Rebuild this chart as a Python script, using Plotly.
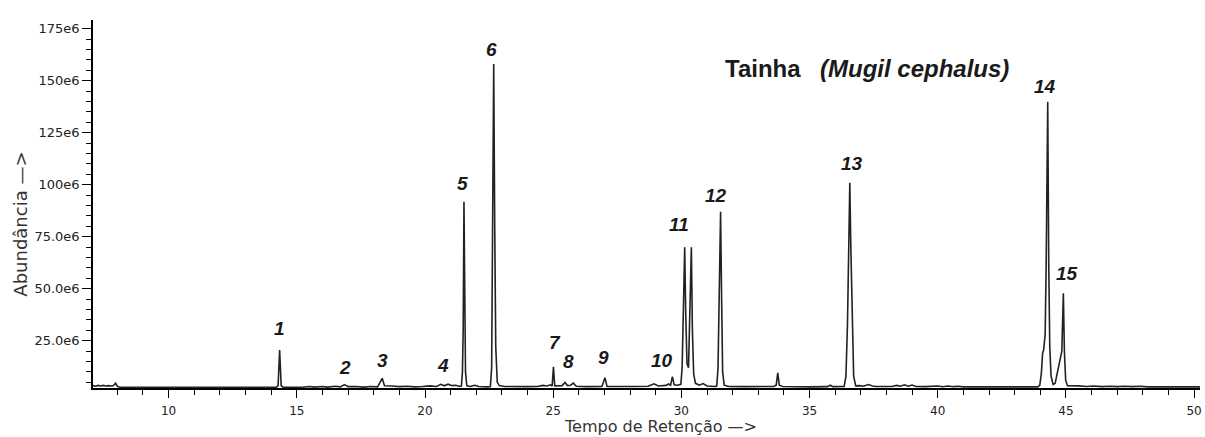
import numpy as np
import plotly.graph_objects as go

# Total ion chromatogram, retention time (min) vs abundance (x 1e6)
retention_time = [
    7.05, 7.15, 7.25, 7.35, 7.45, 7.55, 7.65, 7.75, 7.85, 7.93, 8.00, 8.10,
    14.20, 14.27, 14.33, 14.39, 14.46,
    15.2, 15.5, 15.7, 16.0, 16.2, 16.5, 16.7, 16.86, 17.0, 17.3, 17.6, 17.9,
    18.15, 18.33, 18.42, 18.7, 19.0, 19.3, 19.6, 19.9, 20.2, 20.45, 20.62,
    20.75, 20.9, 21.05, 21.2, 21.35,
    21.42, 21.46, 21.49, 21.52, 21.55, 21.58, 21.63, 21.75, 21.95, 22.1, 22.45,
    22.55, 22.60, 22.64, 22.68, 22.72, 22.76, 22.82, 22.9, 23.1, 23.5, 24.0,
    24.4, 24.6, 24.75, 24.9, 24.96, 25.01, 25.06, 25.2, 25.35, 25.46, 25.56,
    25.68, 25.79, 25.9, 26.3, 26.9, 27.02, 27.10, 27.6, 28.2, 28.7, 28.93,
    29.1, 29.4, 29.5, 29.58, 29.65, 29.72, 29.85, 29.98,
    30.03, 30.07, 30.13, 30.17, 30.22, 30.28, 30.33, 30.39, 30.43, 30.48,
    30.55, 30.7, 30.85, 31.0, 31.3,
    31.38, 31.43, 31.47, 31.53, 31.57, 31.61, 31.67, 31.85,
    32.5, 33.2, 33.6, 33.70, 33.76, 33.82, 33.95,
    35.0, 35.7, 35.81, 35.9,
    36.35, 36.42, 36.48, 36.53, 36.57, 36.61, 36.66, 36.72, 36.80,
    36.95, 37.1, 37.3, 37.45, 37.6, 38.2, 38.4, 38.55, 38.7, 38.85, 39.0,
    39.15, 39.5, 40.0, 40.2, 40.4, 40.6, 40.8, 41.0,
    43.9, 43.98,
    44.04, 44.09, 44.13, 44.19, 44.23, 44.29, 44.33, 44.37, 44.42, 44.50,
    44.58, 44.66, 44.72, 44.78, 44.84, 44.90, 44.94, 44.99, 45.06,
    45.5, 45.8, 46.1, 46.4, 46.7, 47.0, 47.3, 47.6, 47.9, 48.2, 50.23,
]
abundance_e6 = [
    3.4, 3.1, 3.5, 3.2, 3.5, 3.2, 3.4, 3.2, 3.5, 4.6, 3.0, 2.6,
    2.6, 3.4, 20.5, 3.4, 2.7,
    2.6, 3.0, 2.7, 3.0, 2.7, 3.1, 2.8, 3.9, 2.9, 3.0, 2.7, 3.0,
    2.8, 6.9, 3.3, 3.2, 2.9, 3.1, 2.8, 3.0, 3.3, 3.0, 4.0,
    3.3, 4.1, 3.4, 3.6, 3.0,
    3.2, 10.0, 30.0, 91.8, 30.0, 10.0, 3.4, 3.0, 3.6, 3.0, 2.8,
    3.0, 12.0, 80.0, 158.0, 80.0, 22.0, 5.0, 3.4, 3.0, 2.8, 2.9,
    3.0, 3.5, 3.2, 3.8, 3.2, 12.5, 3.3, 3.2, 3.4, 4.9, 3.4,
    3.6, 4.6, 3.1, 2.9, 3.0, 7.2, 3.0, 2.9, 3.0, 3.1, 4.3,
    3.2, 3.5, 4.2, 3.6, 7.7, 3.8, 3.6, 4.0,
    12.0, 38.0, 69.9, 38.0, 14.0, 12.0, 35.0, 69.9, 30.0, 9.0,
    4.5, 3.6, 4.4, 3.2, 3.0,
    3.2, 12.0, 45.0, 87.0, 45.0, 10.0, 3.6, 3.0,
    2.9, 2.9, 3.0, 3.6, 9.5, 3.6, 3.0,
    2.8, 2.9, 3.6, 2.9,
    3.0, 8.0, 33.0, 70.0, 101.0, 70.0, 33.0, 8.0, 3.3,
    3.4, 3.1, 3.9, 3.2, 3.0, 3.0, 3.5, 3.1, 3.8, 3.1, 3.7,
    3.0, 2.9, 3.2, 2.9, 3.2, 2.9, 3.1, 2.8,
    2.8, 3.5,
    9.0, 19.0, 20.5, 28.0, 62.0, 139.9, 62.0, 22.0, 8.0, 3.9,
    4.5, 9.0, 14.0, 16.5, 20.0, 47.8, 20.0, 6.0, 3.4,
    3.3, 3.0, 3.2, 2.9, 3.1, 2.9, 3.1, 2.9, 3.1, 2.8, 2.8,
]

# Peak numbering and where each number sits (retention time, abundance x 1e6)
peak_numbers = ["1", "2", "3", "4", "5", "6", "7", "8", "9", "10",
                "11", "12", "13", "14", "15"]
label_rt = [14.33, 16.86, 18.34, 20.72, 21.46, 22.61, 25.08, 25.58, 26.95,
            29.25, 29.91, 31.35, 36.64, 44.20, 45.06]
label_abundance_e6 = [31.1, 11.9, 15.7, 13.3, 100.8, 164.8, 23.9, 14.8, 16.7,
                      15.7, 81.1, 95.0, 110.4, 147.0, 57.5]

# Axis ticks
x_tick_values = [10, 15, 20, 25, 30, 35, 40, 45, 50]
y_tick_values_e6 = [25, 50, 75, 100, 125, 150, 175]
y_tick_text = ["25.0e6", "50.0e6", "75.0e6", "100e6", "125e6", "150e6", "175e6"]

x = np.array(retention_time)
y = np.array(abundance_e6) * 1e6

fig = go.Figure()
fig.add_trace(go.Scatter(
    x=x, y=y, mode="lines",
    line=dict(color="#222222", width=1.6),
    hoverinfo="skip", showlegend=False,
))

label_font = dict(family="Liberation Sans", size=19, color="#1a1a1a",
                  weight="bold", style="italic")
for num, rt, ab in zip(peak_numbers, label_rt, label_abundance_e6):
    fig.add_annotation(x=rt, y=ab * 1e6, xref="x", yref="y", text=num,
                       showarrow=False, xanchor="center", yanchor="middle",
                       font=label_font)

# Sample name
fig.add_annotation(x=0.569, y=0.868, xref="paper", yref="paper",
                   text="Tainha", showarrow=False,
                   xanchor="left", yanchor="middle",
                   font=dict(family="Liberation Sans", size=24, color="#1a1a1a",
                             weight="bold"))
fig.add_annotation(x=0.6546, y=0.868, xref="paper", yref="paper",
                   text="(Mugil cephalus)", showarrow=False,
                   xanchor="left", yanchor="middle",
                   font=dict(family="Liberation Sans", size=24, color="#1a1a1a",
                             weight="bold", style="italic"))

# Axis titles
fig.add_annotation(x=0.5126, y=-0.1055, xref="paper", yref="paper",
                   text="Tempo de Retenção —>", showarrow=False,
                   xanchor="center", yanchor="middle",
                   font=dict(family="DejaVu Sans", size=16, color="#333333"))
fig.add_annotation(x=-0.0658, y=0.4443, xref="paper", yref="paper",
                   text="Abundância —>", showarrow=False, textangle=-90,
                   xanchor="center", yanchor="middle",
                   font=dict(family="DejaVu Sans", size=18, color="#333333"))

tick_font = dict(family="DejaVu Sans", size=12, color="#222222")

fig.update_xaxes(
    range=[7.05, 50.23],
    showline=True, linecolor="#000000", linewidth=1.5,
    showgrid=False, zeroline=False,
    tickmode="array", tickvals=x_tick_values,
    ticks="outside", ticklen=8, tickwidth=1, tickcolor="#000000",
    ticklabelstandoff=3,
    tickfont=tick_font,
    minor=dict(tickmode="linear", tick0=0, dtick=1, ticks="outside",
               ticklen=5, tickwidth=1, tickcolor="#000000", showgrid=False),
)
fig.update_yaxes(
    range=[2.26e6, 179.2e6],
    showline=True, linecolor="#000000", linewidth=1.5,
    showgrid=False, zeroline=False,
    tickmode="array",
    tickvals=[v * 1e6 for v in y_tick_values_e6],
    ticktext=y_tick_text,
    ticks="outside", ticklen=9, tickwidth=1, tickcolor="#000000",
    tickfont=dict(family="DejaVu Sans", size=13, color="#222222"),
    minor=dict(tickmode="linear", tick0=0, dtick=5e6, ticks="outside",
               ticklen=5, tickwidth=1, tickcolor="#000000", showgrid=False),
)

fig.update_layout(
    width=1205, height=437,
    margin=dict(l=93, r=3, t=20, b=49),
    paper_bgcolor="#ffffff", plot_bgcolor="#ffffff",
    showlegend=False,
)

fig.write_html("out.html")
